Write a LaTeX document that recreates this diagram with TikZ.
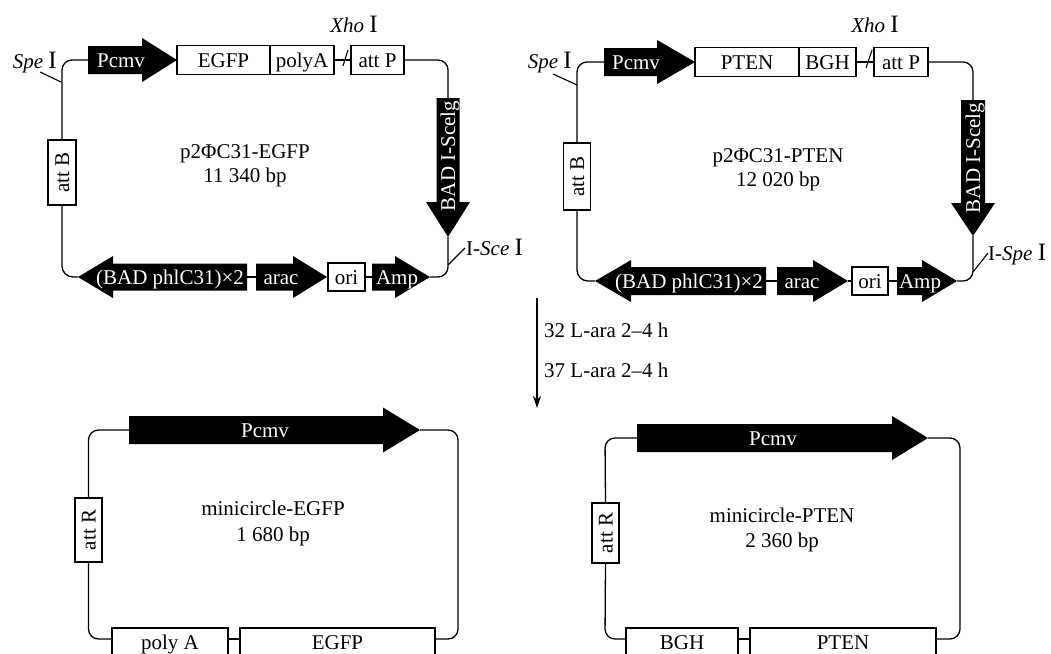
\documentclass[tikz,border=0pt]{standalone}
\usepackage{fontspec}
\setmainfont{Liberation Serif}
\usetikzlibrary{arrows.meta}
\newcommand\bigI{{\fontsize{25}{25}\selectfont I}}
% horizontal gene arrow: name, xtail, xheadstart, xtip, y, bodyhalf, headhalf
\newcommand\GeneH[7]{%
 \fill (#2,#5-#6) -- (#3,#5-#6) -- (#3,#5-#7) -- (#4,#5) -- (#3,#5+#7) -- (#3,#5+#6) -- (#2,#5+#6) -- cycle;
 \coordinate (#1-tail) at (#2,#5); \coordinate (#1-tip) at (#4,#5);}
% vertical gene arrow: name, ytail, yheadstart, ytip, x, bodyhalf, headhalf
\newcommand\GeneV[7]{%
 \fill (#5-#6,#2) -- (#5-#6,#3) -- (#5-#7,#3) -- (#5,#4) -- (#5+#7,#3) -- (#5+#6,#3) -- (#5+#6,#2) -- cycle;
 \coordinate (#1-tail) at (#5,#2); \coordinate (#1-tip) at (#5,#4);}
\begin{document}
\begin{tikzpicture}[x=1pt, y=-1pt,
  font=\fontsize{21}{24}\selectfont,
  bb/.style={line width=1.3pt},
  tick/.style={line width=1.1pt},
  box/.style={draw, line width=1.2pt, fill=white, inner sep=0pt, text height=14pt, text depth=0pt},
  wt/.style={text=white, inner sep=0pt, text height=14pt, text depth=0pt},
  lbl/.style={inner sep=0pt},
  ctr/.style={inner sep=0pt, text height=14pt, text depth=0pt}]
\useasboundingbox (0,0) rectangle (1051,653);
\clip (0,0) rectangle (1051,653);

% ================= LEFT PLASMID =================
\GeneH{pcmvL}{88}{142}{177}{60}{14}{22}
\node[wt] (pcmvLt) at (121,60) {Pcmv};
\node[box, minimum width=93pt, minimum height=29pt] (egfpL) at (223.5,60) {EGFP};
\node[box, minimum width=64pt, minimum height=29pt] (polyAL) at (302,60) {polyA};
\node[box, minimum width=53pt, minimum height=29pt] (attPL) at (377.5,60) {att P};
\GeneV{badL}{98}{202}{237}{448}{11.5}{22}
\node[wt, rotate=90] (badLt) at (448,156) {BAD I-Scelg};
\GeneH{ampL}{372}{395}{430}{277}{13.5}{21}
\node[wt] (ampLt) at (397,277) {Amp};
\node[box, minimum width=37pt, minimum height=28pt] (oriL) at (346.5,277) {ori};
\GeneH{aracL}{256}{293}{327}{277}{13.5}{21}
\node[wt] (aracLt) at (281,277) {arac};
\GeneH{phlL}{247}{113}{78}{277}{13.5}{21}
\node[wt] (phlLt) at (170,277) {(BAD phlC31)×2};
\node[box, minimum width=28pt, minimum height=65pt] (attBL) at (62,172.5) {};
\node[ctr, rotate=90] (attBLt) at (attBL) {att B};

\draw[bb, rounded corners=10pt] (attPL.east) -| (badL-tail);
\draw[bb, rounded corners=10pt] (badL-tip) |- (ampL-tip);
\draw[bb] (ampL-tail) -- (oriL.east);
\draw[bb] (oriL.west) -- (aracL-tip);
\draw[bb] (aracL-tail) -- (phlL-tail);
\draw[bb, rounded corners=11pt] (phlL-tip) -| (attBL.south);
\draw[bb, rounded corners=10pt] (attBL.north) |- (pcmvL-tail);
\draw[bb] (polyAL.east) -- (attPL.west);

\node[lbl, anchor=base east] (speL) at (57,68) {\textit{Spe} \bigI};
\coordinate (speLa) at (40,72); \coordinate (speLb) at (61,82);
\draw[tick] (speLa) -- (speLb);
\node[lbl, anchor=base] (xhoL) at (354,32) {\textit{Xho} \bigI};
\coordinate (xhoLa) at (343,66); \coordinate (xhoLb) at (348,50);
\draw[tick] (xhoLa) -- (xhoLb);
\node[lbl, anchor=base west] (sceL) at (466,255) {I-\textit{Sce} \bigI};
\coordinate (sceLa) at (448,265); \coordinate (sceLb) at (465,248);
\draw[tick] (sceLa) -- (sceLb);

\node[lbl, anchor=base] (titleL) at (245,158) {p2ΦC31-EGFP};
\node[lbl, anchor=base] (sizeL) at (245,182) {11 340 bp};

% ================= RIGHT PLASMID =================
\GeneH{pcmvR}{604}{657}{695}{62}{14}{22}
\node[wt] (pcmvRt) at (636,62) {Pcmv};
\node[box, minimum width=104pt, minimum height=29pt] (ptenR) at (747,62) {PTEN};
\node[box, minimum width=57pt, minimum height=29pt] (bghR) at (827.5,62) {BGH};
\node[box, minimum width=54pt, minimum height=29pt] (attPR) at (901,62) {att P};
\GeneV{badR}{100}{203}{236}{973}{12}{22}
\node[wt, rotate=90] (badRt) at (973,158) {BAD I-Scelg};
\GeneH{ampR}{897}{922}{957}{281}{14}{21}
\node[wt] (ampRt) at (920,281) {Amp};
\node[box, minimum width=36pt, minimum height=28pt] (oriR) at (870,281) {ori};
\GeneH{aracR}{777}{813}{848}{281}{14}{21}
\node[wt] (aracRt) at (802,281) {arac};
\GeneH{phlR}{766}{631}{595}{281}{14}{21}
\node[wt] (phlRt) at (689,281) {(BAD phlC31)×2};
\node[box, minimum width=27pt, minimum height=67pt] (attBR) at (577,176.5) {};
\node[ctr, rotate=90] (attBRt) at (attBR) {att B};

\draw[bb, rounded corners=10pt] (attPR.east) -| (badR-tail);
\draw[bb, rounded corners=10pt] (badR-tip) |- (ampR-tip);
\draw[bb] (ampR-tail) -- (oriR.east);
\draw[bb] (oriR.west) -- (aracR-tip);
\draw[bb] (aracR-tail) -- (phlR-tail);
\draw[bb, rounded corners=11pt] (phlR-tip) -| (attBR.south);
\draw[bb, rounded corners=10pt] (attBR.north) |- (pcmvR-tail);
\draw[bb] (bghR.east) -- (attPR.west);

\node[lbl, anchor=base east] (speR) at (572,68) {\textit{Spe} \bigI};
\coordinate (speRa) at (553,74); \coordinate (speRb) at (577,85);
\draw[tick] (speRa) -- (speRb);
\node[lbl, anchor=base] (xhoR) at (875,32) {\textit{Xho} \bigI};
\coordinate (xhoRa) at (866,68); \coordinate (xhoRb) at (872,50);
\draw[tick] (xhoRa) -- (xhoRb);
\node[lbl, anchor=base west] (speR2) at (988,260) {I-\textit{Spe} \bigI};
\coordinate (speR2a) at (973,272); \coordinate (speR2b) at (988,253);
\draw[tick] (speR2a) -- (speR2b);

\node[lbl, anchor=base] (titleR) at (778,162) {p2ΦC31-PTEN};
\node[lbl, anchor=base] (sizeR) at (778,186) {12 020 bp};

% ================= PROCESS ARROW =================
\coordinate (procA) at (537,298);
\coordinate (procB) at (537,408);
\draw[line width=1.2pt, -{Stealth[length=12pt, width=8pt]}] (procA) -- (procB);
\node[lbl, anchor=base west] (cond1) at (544,337) {32 L-ara 2–4 h};
\node[lbl, anchor=base west] (cond2) at (544,377) {37 L-ara 2–4 h};

% ================= MINICIRCLE EGFP =================
\coordinate (mcLtl) at (88.5,430); \coordinate (mcLtr) at (458,430);
\coordinate (mcLbr) at (458,639); \coordinate (mcLbl) at (88.5,639);
\GeneH{mpcmvL}{129}{383}{420}{430}{14}{22.5}
\node[wt] (mpcmvLt) at (265,430) {Pcmv};
\node[box, minimum width=27pt, minimum height=64pt] (attRL) at (88.5,530) {};
\node[ctr, rotate=90] (attRLt) at (attRL) {att R};
\node[box, minimum width=116pt, minimum height=32pt] (polyAM) at (170,644) {};
\node[ctr] (polyAMt) at (170,642) {poly A};
\node[box, minimum width=195pt, minimum height=32pt] (egfpM) at (337.5,644) {};
\node[ctr] (egfpMt) at (337.5,642) {EGFP};
\draw[bb, rounded corners=10pt] (mpcmvL-tip) -- (mcLtr) -- (mcLbr) -- (egfpM.east |- mcLbr);
\draw[bb] (egfpM.west |- mcLbr) -- (polyAM.east |- mcLbr);
\draw[bb, rounded corners=10pt] (polyAM.west |- mcLbr) -- (mcLbl) -- (attRL.south);
\draw[bb, rounded corners=10pt] (attRL.north) -- (mcLtl) -- (mpcmvL-tail);
\node[lbl, anchor=base] (mtitleL) at (273,515) {minicircle-EGFP};
\node[lbl, anchor=base] (msizeL) at (273,541) {1 680 bp};

% ================= MINICIRCLE PTEN =================
\coordinate (mcRtl) at (605,438); \coordinate (mcRtr) at (960,438);
\coordinate (mcRbr) at (960,639); \coordinate (mcRbl) at (605,639);
\GeneH{mpcmvR}{637}{892}{928}{438}{14}{22}
\node[wt] (mpcmvRt) at (773,438) {Pcmv};
\node[box, minimum width=27pt, minimum height=60pt] (attRR) at (605.5,533) {};
\node[ctr, rotate=90] (attRRt) at (attRR) {att R};
\node[box, minimum width=112pt, minimum height=32pt] (bghM) at (682,644) {};
\node[ctr] (bghMt) at (682,642) {BGH};
\node[box, minimum width=186pt, minimum height=32pt] (ptenM) at (843,644) {};
\node[ctr] (ptenMt) at (843,642) {PTEN};
\draw[bb, rounded corners=10pt] (mpcmvR-tip) -- (mcRtr) -- (mcRbr) -- (ptenM.east |- mcRbr);
\draw[bb] (ptenM.west |- mcRbr) -- (bghM.east |- mcRbr);
\draw[bb, rounded corners=10pt] (bghM.west |- mcRbr) -- (mcRbl) -- (attRR.south);
\draw[bb, rounded corners=10pt] (attRR.north) -- (mcRtl) -- (mpcmvR-tail);
\node[lbl, anchor=base] (mtitleR) at (782,522) {minicircle-PTEN};
\node[lbl, anchor=base] (msizeR) at (782,547) {2 360 bp};
\end{tikzpicture}
\end{document}
